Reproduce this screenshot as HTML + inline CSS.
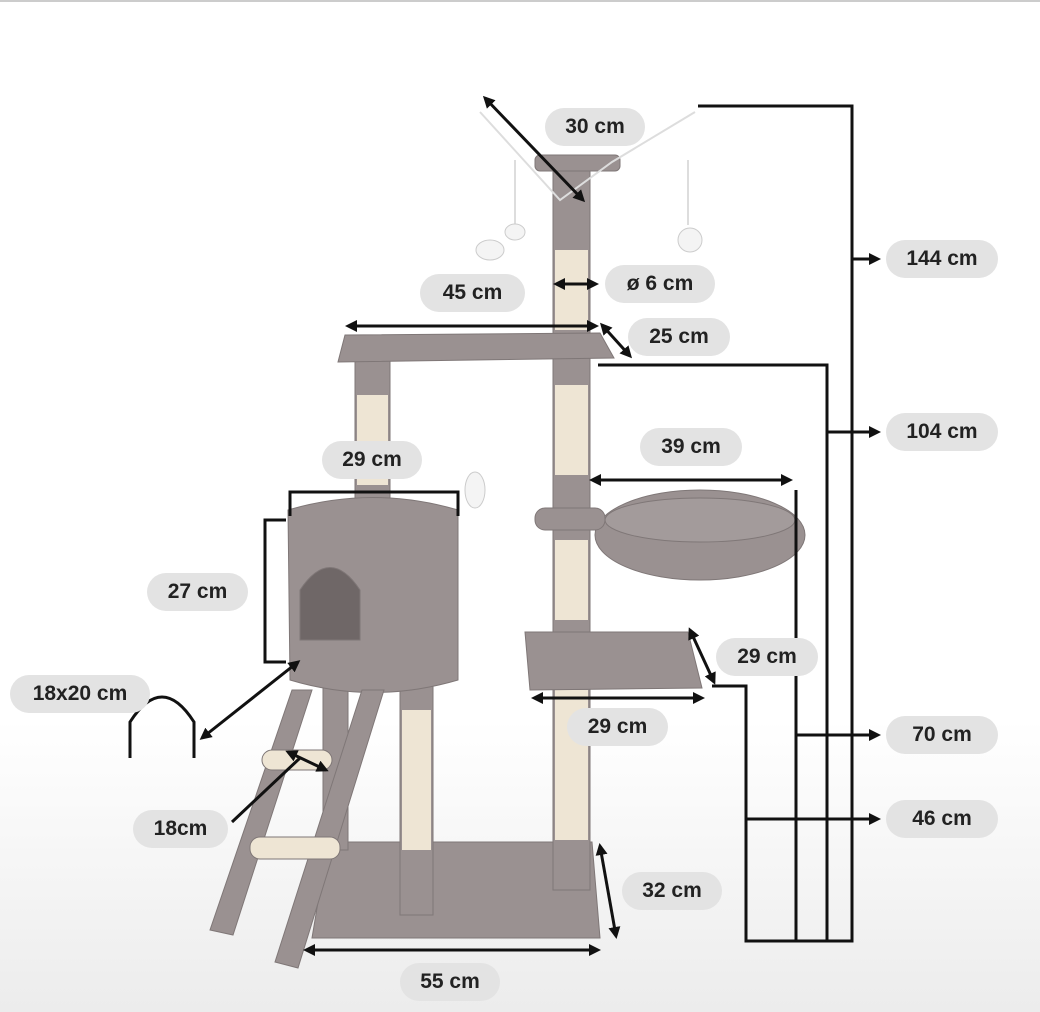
<!DOCTYPE html>
<html><head><meta charset="utf-8"><style>
html,body{margin:0;padding:0}
body{width:1040px;height:1012px;overflow:hidden;position:relative;font-family:"Liberation Sans",sans-serif;background:linear-gradient(#fff 0,#fff 720px,#ececec 1012px)}
.p{position:absolute;background:#e3e3e3;border-radius:19px;font-weight:bold;font-size:21px;color:#222;display:flex;align-items:center;justify-content:center;height:38px}
svg{position:absolute;left:0;top:0}
</style></head><body>
<div style="position:absolute;left:0;top:0;width:1040px;height:2px;background:#ccc"></div>
<svg width="1040" height="1012" viewBox="0 0 1040 1012">
<defs><marker id="a" markerWidth="12" markerHeight="12" refX="9" refY="6" orient="auto" markerUnits="userSpaceOnUse"><path d="M0,0L12,6L0,12z" fill="#111"/></marker>
<marker id="b" markerWidth="12" markerHeight="12" refX="3" refY="6" orient="auto" markerUnits="userSpaceOnUse"><path d="M12,0L0,6L12,12z" fill="#111"/></marker></defs>
<g fill="#9a9191" stroke="#7f7777" stroke-width="1">
<polygon points="328,842 592,842 600,938 312,938"/>
<rect x="553" y="165" width="37" height="725"/>
<rect x="555" y="250" width="33" height="80" fill="#eee5d4" stroke="none"/>
<rect x="555" y="385" width="33" height="90" fill="#eee5d4" stroke="none"/>
<rect x="555" y="540" width="33" height="80" fill="#eee5d4" stroke="none"/>
<rect x="555" y="690" width="33" height="150" fill="#eee5d4" stroke="none"/>
<rect x="535" y="155" width="85" height="16" rx="5"/>
<rect x="355" y="360" width="35" height="160"/>
<rect x="357" y="395" width="31" height="90" fill="#eee5d4" stroke="none"/>
<polygon points="345,335 600,333 614,358 338,362"/>
<ellipse cx="700" cy="535" rx="105" ry="45"/>
<ellipse cx="700" cy="520" rx="95" ry="22" fill="#a39b9b"/>
<rect x="535" y="508" width="70" height="22" rx="10"/>
<polygon points="525,632 688,632 702,688 530,690"/>
<rect x="400" y="680" width="33" height="235"/>
<rect x="402" y="710" width="29" height="140" fill="#eee5d4" stroke="none"/>
<rect x="323" y="680" width="25" height="170"/>
<path d="M288,510 Q373,485 458,510 L458,680 Q373,705 290,680 Z"/>
<path d="M300,640 L300,590 Q330,545 360,590 L360,640 Z" fill="#6f6767"/>
<polygon points="292,690 312,690 233,935 210,930"/>
<polygon points="362,690 384,690 298,968 275,962"/>
<rect x="250" y="837" width="90" height="22" rx="10" fill="#eee5d4"/>
<rect x="262" y="750" width="70" height="20" rx="10" fill="#eee5d4"/>
</g>
<g stroke="#ddd" stroke-width="2" fill="none"><path d="M480,112 L560,200 L612,162 L695,112"/><line x1="515" y1="160" x2="515" y2="225"/><line x1="688" y1="160" x2="688" y2="225"/></g>
<g fill="#f4f4f4" stroke="#ccc"><ellipse cx="490" cy="250" rx="14" ry="10"/><ellipse cx="515" cy="232" rx="10" ry="8"/><ellipse cx="690" cy="240" rx="12" ry="12"/><ellipse cx="475" cy="490" rx="10" ry="18"/></g>
<g stroke="#111" stroke-width="3" fill="none">
<polyline points="698,106 852,106 852,941 746,941 746,686 712,686"/>
<polyline points="598,365 827,365 827,941"/>
<line x1="796" y1="490" x2="796" y2="941"/>
<line x1="852" y1="259" x2="878" y2="259" marker-end="url(#a)"/>
<line x1="827" y1="432" x2="878" y2="432" marker-end="url(#a)"/>
<line x1="796" y1="735" x2="878" y2="735" marker-end="url(#a)"/>
<line x1="746" y1="819" x2="878" y2="819" marker-end="url(#a)"/>
<line x1="485" y1="98" x2="583" y2="200" marker-start="url(#b)" marker-end="url(#a)"/>
<line x1="556" y1="284" x2="596" y2="284" marker-start="url(#b)" marker-end="url(#a)"/>
<line x1="348" y1="326" x2="596" y2="326" marker-start="url(#b)" marker-end="url(#a)"/>
<line x1="602" y1="325" x2="630" y2="356" marker-start="url(#b)" marker-end="url(#a)"/>
<polyline points="290,516 290,492 458,492 458,516"/>
<line x1="592" y1="480" x2="790" y2="480" marker-start="url(#b)" marker-end="url(#a)"/>
<polyline points="286,520 265,520 265,662 286,662"/>
<line x1="690" y1="630" x2="714" y2="682" marker-start="url(#b)" marker-end="url(#a)"/>
<line x1="534" y1="698" x2="702" y2="698" marker-start="url(#b)" marker-end="url(#a)"/>
<line x1="298" y1="662" x2="202" y2="738" marker-start="url(#b)" marker-end="url(#a)"/>
<line x1="232" y1="822" x2="300" y2="758"/>
<line x1="288" y1="752" x2="326" y2="770" marker-start="url(#b)" marker-end="url(#a)"/>
<line x1="600" y1="846" x2="616" y2="936" marker-start="url(#b)" marker-end="url(#a)"/>
<line x1="306" y1="950" x2="598" y2="950" marker-start="url(#b)" marker-end="url(#a)"/>
<path d="M130,758 L130,722 Q162,672 194,722 L194,758"/>
</g>
</svg>
<div class="p" style="left:545px;top:108px;width:100px">30 cm</div>
<div class="p" style="left:420px;top:274px;width:105px">45 cm</div>
<div class="p" style="left:605px;top:265px;width:110px">ø 6 cm</div>
<div class="p" style="left:628px;top:318px;width:102px">25 cm</div>
<div class="p" style="left:322px;top:441px;width:100px">29 cm</div>
<div class="p" style="left:640px;top:428px;width:102px">39 cm</div>
<div class="p" style="left:147px;top:573px;width:101px">27 cm</div>
<div class="p" style="left:10px;top:675px;width:140px">18x20 cm</div>
<div class="p" style="left:716px;top:638px;width:102px">29 cm</div>
<div class="p" style="left:567px;top:708px;width:101px">29 cm</div>
<div class="p" style="left:133px;top:810px;width:95px">18cm</div>
<div class="p" style="left:622px;top:872px;width:100px">32 cm</div>
<div class="p" style="left:400px;top:963px;width:100px">55 cm</div>
<div class="p" style="left:886px;top:240px;width:112px">144 cm</div>
<div class="p" style="left:886px;top:413px;width:112px">104 cm</div>
<div class="p" style="left:886px;top:716px;width:112px">70 cm</div>
<div class="p" style="left:886px;top:800px;width:112px">46 cm</div>
</body></html>
